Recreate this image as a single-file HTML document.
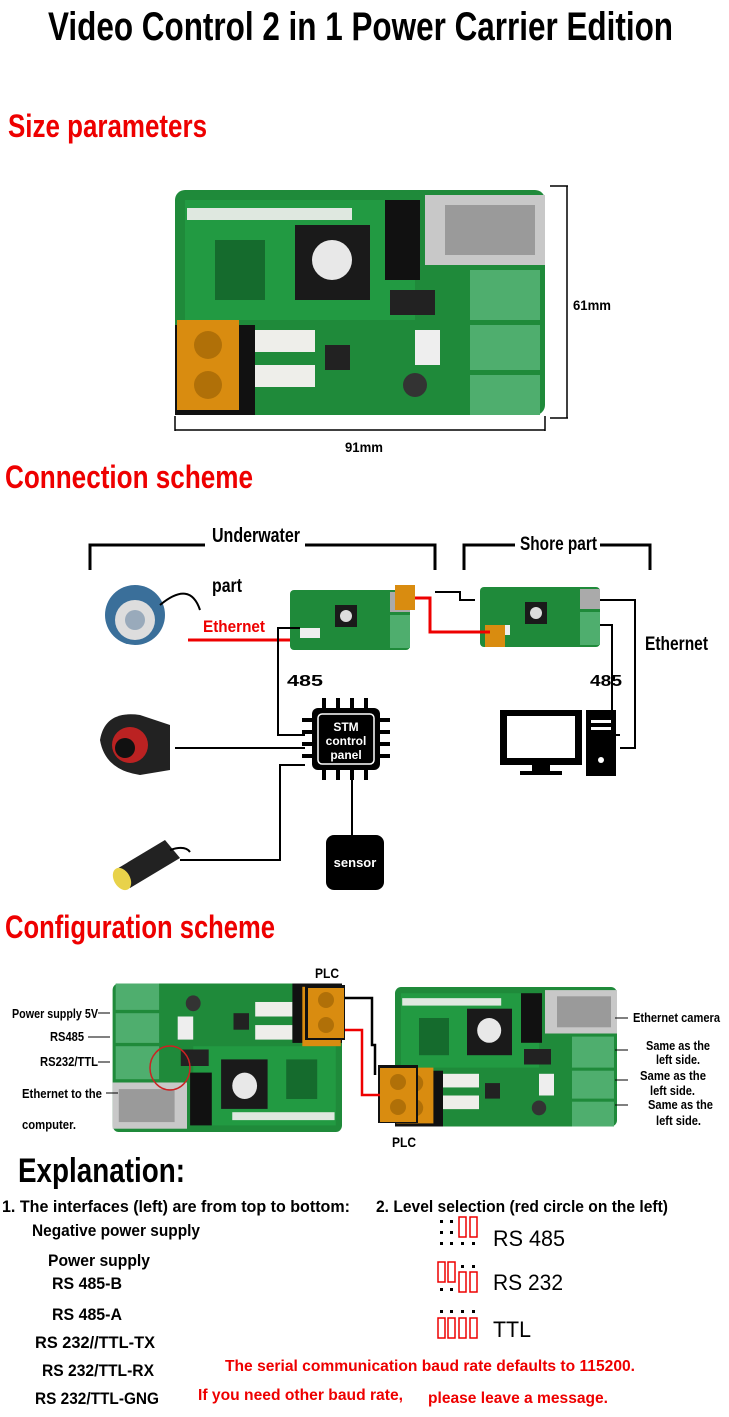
<!DOCTYPE html>
<html><head><meta charset="utf-8"><style>
html,body{margin:0;padding:0;background:#fff;}
svg{display:block;}
text{font-family:"Liberation Sans",sans-serif;font-weight:bold;}
</style></head><body>
<svg width="729" height="1417" viewBox="0 0 729 1417" xmlns="http://www.w3.org/2000/svg">
<defs>
<g id="board">
  <rect x="0" y="0" width="370" height="225" rx="10" fill="#1f8a3a"/>
  <rect x="10" y="10" width="230" height="120" fill="#229a42"/>
  <rect x="12" y="18" width="165" height="12" fill="#dfe8e0"/>
  <rect x="120" y="35" width="75" height="75" fill="#1a1a1a"/>
  <circle cx="157" cy="70" r="20" fill="#e8e8e8"/>
  <rect x="210" y="10" width="35" height="80" fill="#111"/>
  <rect x="250" y="5" width="120" height="70" fill="#c8c8c8"/>
  <rect x="270" y="15" width="90" height="50" fill="#9a9a9a"/>
  <rect x="295" y="80" width="70" height="50" fill="#4fae6e"/>
  <rect x="295" y="135" width="70" height="45" fill="#4fae6e"/>
  <rect x="295" y="185" width="70" height="40" fill="#4fae6e"/>
  <rect x="215" y="100" width="45" height="25" fill="#222"/>
  <rect x="240" y="140" width="25" height="35" fill="#eee"/>
  <circle cx="240" cy="195" r="12" fill="#333"/>
  <rect x="80" y="140" width="60" height="22" fill="#eeeeea"/>
  <rect x="80" y="175" width="60" height="22" fill="#eeeeea"/>
  <rect x="150" y="155" width="25" height="25" fill="#222"/>
  <rect x="0" y="135" width="80" height="90" fill="#111"/>
  <rect x="2" y="130" width="62" height="90" fill="#d98c10"/>
  <circle cx="33" cy="155" r="14" fill="#b07008"/>
  <circle cx="33" cy="195" r="14" fill="#b07008"/>
  <rect x="40" y="50" width="50" height="60" fill="#156b2d"/>
</g>
<g id="sboard">
  <rect x="0" y="0" width="120" height="60" rx="4" fill="#1f8a3a"/>
  <rect x="45" y="15" width="22" height="22" fill="#1a1a1a"/>
  <circle cx="56" cy="26" r="6" fill="#ddd"/>
  <rect x="100" y="2" width="20" height="20" fill="#aaa"/>
  <rect x="100" y="25" width="20" height="33" fill="#4fae6e"/>
  <rect x="10" y="38" width="20" height="10" fill="#eee"/>
</g>
</defs>

<text x="48" y="40" font-size="40" textLength="625" lengthAdjust="spacingAndGlyphs">Video Control 2 in 1 Power Carrier Edition</text>
<text x="8" y="137" font-size="32" fill="#e00" textLength="199" lengthAdjust="spacingAndGlyphs">Size parameters</text>

<use href="#board" transform="translate(175,190)"/>
<line x1="550" y1="186" x2="568" y2="186" stroke="#000" stroke-width="1.5"/>
<line x1="567" y1="186" x2="567" y2="418" stroke="#000" stroke-width="1.5"/>
<line x1="550" y1="418" x2="568" y2="418" stroke="#000" stroke-width="1.5"/>
<text x="573" y="310" font-size="14" textLength="38" lengthAdjust="spacingAndGlyphs">61mm</text>
<line x1="175" y1="430" x2="545" y2="430" stroke="#000" stroke-width="1.5"/>
<line x1="175" y1="416" x2="175" y2="431" stroke="#000" stroke-width="1.5"/>
<line x1="545" y1="416" x2="545" y2="431" stroke="#000" stroke-width="1.5"/>
<text x="345" y="452" font-size="14" textLength="38" lengthAdjust="spacingAndGlyphs">91mm</text>

<text x="5" y="488" font-size="32" fill="#e00" textLength="248" lengthAdjust="spacingAndGlyphs">Connection scheme</text>

<!-- brackets -->
<g stroke="#000" stroke-width="3" fill="none">
<path d="M90 570 V545 H205 M305 545 H435 V570"/>
<path d="M464 570 V545 H515 M600 545 H650 V570"/>
</g>
<text x="212" y="542" font-size="20" textLength="88" lengthAdjust="spacingAndGlyphs">Underwater</text>
<text x="212" y="592" font-size="19" textLength="30" lengthAdjust="spacingAndGlyphs">part</text>
<text x="520" y="550" font-size="19" textLength="77" lengthAdjust="spacingAndGlyphs">Shore part</text>

<!-- camera 1 -->
<circle cx="135" cy="615" r="30" fill="#3a6f9a"/>
<circle cx="135" cy="620" r="20" fill="#ddd"/>
<circle cx="135" cy="620" r="10" fill="#9ab"/>
<path d="M160 605 Q190 580 200 610" stroke="#000" stroke-width="2" fill="none"/>
<text x="203" y="632" font-size="17" fill="#e00" textLength="62" lengthAdjust="spacingAndGlyphs">Ethernet</text>
<line x1="188" y1="640" x2="300" y2="640" stroke="#e00" stroke-width="3"/>

<use href="#sboard" transform="translate(290,590)"/>
<rect x="395" y="585" width="20" height="25" fill="#d98c10"/>
<use href="#sboard" transform="translate(480,587)"/>
<rect x="485" y="625" width="20" height="22" fill="#d98c10"/>
<path d="M415 598 H430 V632 H490" stroke="#e00" stroke-width="3" fill="none"/>
<path d="M435 592 H460 V600 H475" stroke="#000" stroke-width="2" fill="none"/>

<g stroke="#000" stroke-width="2" fill="none">
<path d="M300 628 H278 V735 H305"/>
<path d="M600 600 H635 V748 H620"/>
<path d="M600 625 H612 V735 H620"/>
<path d="M175 748 H305"/>
<path d="M180 860 H280 V765 H305"/>
<path d="M352 772 V835"/>
</g>
<text x="287" y="686" font-size="16" textLength="36" lengthAdjust="spacingAndGlyphs">485</text>
<text x="590" y="686" font-size="16" textLength="32" lengthAdjust="spacingAndGlyphs">485</text>
<text x="645" y="650" font-size="19" textLength="63" lengthAdjust="spacingAndGlyphs">Ethernet</text>

<!-- STM chip -->
<g fill="#000">
<rect x="312" y="708" width="68" height="62" rx="6"/>
<rect x="302" y="718" width="88" height="4"/><rect x="302" y="730" width="88" height="4"/>
<rect x="302" y="742" width="88" height="4"/><rect x="302" y="754" width="88" height="4"/>
<rect x="322" y="698" width="4" height="82"/><rect x="336" y="698" width="4" height="82"/>
<rect x="350" y="698" width="4" height="82"/><rect x="364" y="698" width="4" height="82"/>
</g>
<rect x="318" y="714" width="56" height="50" rx="4" fill="#000" stroke="#fff" stroke-width="1.5"/>
<text x="346" y="731" font-size="12" fill="#fff" text-anchor="middle">STM</text>
<text x="346" y="745" font-size="12" fill="#fff" text-anchor="middle">control</text>
<text x="346" y="759" font-size="12" fill="#fff" text-anchor="middle">panel</text>

<!-- camera 2 -->
<path d="M100 740 Q105 710 140 715 L170 725 V770 L140 775 Q105 770 100 740Z" fill="#222"/>
<circle cx="130" cy="745" r="18" fill="#b22"/>
<circle cx="125" cy="748" r="10" fill="#111"/>
<!-- camera 3 -->
<path d="M115 870 L165 840 L180 858 L130 888Z" fill="#222"/>
<ellipse cx="122" cy="879" rx="8" ry="12" fill="#e8d24a" transform="rotate(-30 122 879)"/>
<path d="M170 850 Q185 845 190 852" stroke="#000" stroke-width="2" fill="none"/>

<!-- sensor -->
<rect x="326" y="835" width="58" height="55" rx="8" fill="#000"/>
<text x="355" y="867" font-size="13" fill="#fff" text-anchor="middle">sensor</text>

<!-- computer -->
<rect x="500" y="710" width="82" height="55" fill="#000"/>
<rect x="507" y="716" width="68" height="42" fill="#fff"/>
<rect x="532" y="765" width="18" height="6" fill="#000"/>
<rect x="520" y="771" width="42" height="4" fill="#000"/>
<rect x="586" y="710" width="30" height="66" fill="#000"/>
<rect x="591" y="720" width="20" height="3" fill="#fff"/>
<rect x="591" y="727" width="20" height="3" fill="#fff"/>
<circle cx="601" cy="760" r="3" fill="#fff"/>

<text x="5" y="938" font-size="32" fill="#e00" textLength="270" lengthAdjust="spacingAndGlyphs">Configuration scheme</text>

<!-- config boards -->
<use href="#board" transform="translate(342,1132) scale(-0.62,-0.66)"/>
<rect x="305" y="985" width="40" height="55" fill="#111"/>
<rect x="308" y="988" width="36" height="50" fill="#d98c10"/>
<circle cx="326" cy="1000" r="8" fill="#b07008"/><circle cx="326" cy="1025" r="8" fill="#b07008"/>
<ellipse cx="170" cy="1068" rx="20" ry="22" fill="none" stroke="#c22" stroke-width="1.5"/>
<use href="#board" transform="translate(395,987) scale(0.6,0.62)"/>
<rect x="378" y="1065" width="40" height="58" fill="#111"/>
<rect x="380" y="1068" width="36" height="54" fill="#d98c10"/>
<circle cx="398" cy="1082" r="8" fill="#b07008"/><circle cx="398" cy="1107" r="8" fill="#b07008"/>
<path d="M345 998 H372 V1045 H375 V1075" stroke="#000" stroke-width="2.5" fill="none"/>
<path d="M345 1030 H362 V1095 H380" stroke="#e00" stroke-width="2.5" fill="none"/>
<text x="315" y="978" font-size="14" textLength="24" lengthAdjust="spacingAndGlyphs">PLC</text>
<text x="392" y="1147" font-size="14" textLength="24" lengthAdjust="spacingAndGlyphs">PLC</text>

<g font-size="13">
<text x="12" y="1018" textLength="86" lengthAdjust="spacingAndGlyphs">Power supply 5V</text>
<text x="50" y="1041" textLength="34" lengthAdjust="spacingAndGlyphs">RS485</text>
<text x="40" y="1066" textLength="58" lengthAdjust="spacingAndGlyphs">RS232/TTL</text>
<text x="22" y="1098" textLength="80" lengthAdjust="spacingAndGlyphs">Ethernet to the</text>
<text x="22" y="1129" textLength="54" lengthAdjust="spacingAndGlyphs">computer.</text>
<text x="633" y="1022" textLength="87" lengthAdjust="spacingAndGlyphs">Ethernet camera</text>
<text x="646" y="1050" textLength="64" lengthAdjust="spacingAndGlyphs">Same as the</text>
<text x="656" y="1064" textLength="44" lengthAdjust="spacingAndGlyphs">left side.</text>
<text x="640" y="1080" textLength="66" lengthAdjust="spacingAndGlyphs">Same as the</text>
<text x="650" y="1095" textLength="45" lengthAdjust="spacingAndGlyphs">left side.</text>
<text x="648" y="1109" textLength="65" lengthAdjust="spacingAndGlyphs">Same as the</text>
<text x="656" y="1125" textLength="45" lengthAdjust="spacingAndGlyphs">left side.</text>
</g>
<g stroke="#000" stroke-width="1">
<path d="M98 1013 H110 M88 1037 H110 M98 1062 H110 M106 1093 H118 M615 1018 H628 M615 1050 H628 M615 1080 H628 M615 1105 H628"/>
</g>

<text x="18" y="1182" font-size="34" textLength="167" lengthAdjust="spacingAndGlyphs">Explanation:</text>
<g font-size="17">
<text x="2" y="1212" textLength="348" lengthAdjust="spacingAndGlyphs">1. The interfaces (left) are from top to bottom:</text>
<text x="32" y="1236" textLength="168" lengthAdjust="spacingAndGlyphs">Negative power supply</text>
<text x="48" y="1266" textLength="102" lengthAdjust="spacingAndGlyphs">Power supply</text>
<text x="52" y="1289" textLength="70" lengthAdjust="spacingAndGlyphs">RS 485-B</text>
<text x="52" y="1320" textLength="70" lengthAdjust="spacingAndGlyphs">RS 485-A</text>
<text x="35" y="1348" textLength="120" lengthAdjust="spacingAndGlyphs">RS 232//TTL-TX</text>
<text x="42" y="1376" textLength="112" lengthAdjust="spacingAndGlyphs">RS 232/TTL-RX</text>
<text x="35" y="1404" textLength="124" lengthAdjust="spacingAndGlyphs">RS 232/TTL-GNG</text>
<text x="376" y="1212" textLength="292" lengthAdjust="spacingAndGlyphs">2. Level selection (red circle on the left)</text>
</g>
<g font-size="16" fill="#e00">
<text x="225" y="1371" textLength="410" lengthAdjust="spacingAndGlyphs">The serial communication baud rate defaults to 115200.</text>
<text x="198" y="1400" textLength="205" lengthAdjust="spacingAndGlyphs">If you need other baud rate,</text>
<text x="428" y="1403" textLength="180" lengthAdjust="spacingAndGlyphs">please leave a message.</text>
</g>

<!-- jumper icons -->
<g fill="#000">
<rect x="440" y="1220" width="3" height="3"/><rect x="440" y="1231" width="3" height="3"/><rect x="440" y="1242" width="3" height="3"/>
<rect x="450" y="1220" width="3" height="3"/><rect x="450" y="1231" width="3" height="3"/><rect x="450" y="1242" width="3" height="3"/>
<rect x="461" y="1242" width="3" height="3"/><rect x="472" y="1242" width="3" height="3"/>
<rect x="461" y="1265" width="3" height="3"/><rect x="472" y="1265" width="3" height="3"/>
<rect x="440" y="1288" width="3" height="3"/><rect x="450" y="1288" width="3" height="3"/>
<rect x="440" y="1310" width="3" height="3"/><rect x="450" y="1310" width="3" height="3"/><rect x="461" y="1310" width="3" height="3"/><rect x="472" y="1310" width="3" height="3"/>
</g>
<g fill="none" stroke="#e00" stroke-width="1.5">
<rect x="459" y="1217" width="7" height="20"/><rect x="470" y="1217" width="7" height="20"/>
<rect x="438" y="1262" width="7" height="20"/><rect x="448" y="1262" width="7" height="20"/>
<rect x="459" y="1272" width="7" height="20"/><rect x="470" y="1272" width="7" height="20"/>
<rect x="438" y="1318" width="7" height="20"/><rect x="448" y="1318" width="7" height="20"/>
<rect x="459" y="1318" width="7" height="20"/><rect x="470" y="1318" width="7" height="20"/>
</g>
<g style="font-weight:normal" font-size="22">
<text x="493" y="1246" style="font-weight:normal" textLength="72" lengthAdjust="spacingAndGlyphs">RS 485</text>
<text x="493" y="1290" style="font-weight:normal" textLength="70" lengthAdjust="spacingAndGlyphs">RS 232</text>
<text x="493" y="1337" style="font-weight:normal" textLength="38" lengthAdjust="spacingAndGlyphs">TTL</text>
</g>
</svg>
</body></html>
